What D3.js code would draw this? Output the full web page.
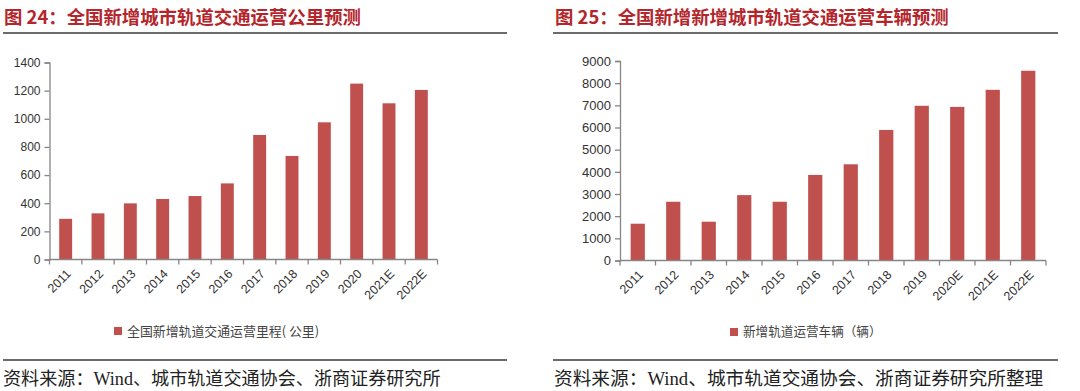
<!DOCTYPE html>
<html><head><meta charset="utf-8">
<script src="https://cdn.jsdelivr.net/npm/d3@7"></script>
<style>
html,body{margin:0;padding:0;background:#fff;}
svg{display:block;}
</style></head>
<body>
<script>
// Left chart data
const leftCategories = ["2011","2012","2013","2014","2015","2016","2017","2018","2019","2020","2021E","2022E"];
const leftValues = [289, 328, 399, 430, 451, 541, 885, 736, 975, 1250, 1110, 1205];
const leftTicks = [0,200,400,600,800,1000,1200,1400];
const leftTitle = "图 24：全国新增城市轨道交通运营公里预测";
const leftLegend = "全国新增轨道交通运营里程( 公里)";
const leftSource = "资料来源：Wind、城市轨道交通协会、浙商证券研究所";

// Right chart data
const rightCategories = ["2011","2012","2013","2014","2015","2016","2017","2018","2019","2020E","2021E","2022E"];
const rightValues = [1660, 2650, 1750, 2950, 2650, 3860, 4340, 5890, 6980, 6930, 7700, 8560];
const rightTicks = [0,1000,2000,3000,4000,5000,6000,7000,8000,9000];
const rightTitle = "图 25：全国新增新增城市轨道交通运营车辆预测";
const rightLegend = "新增轨道运营车辆（辆）";
const rightSource = "资料来源：Wind、城市轨道交通协会、浙商证券研究所整理";

const W = 1080, H = 391;
const barColor = "#c0504d";
const titleColor = "#b3262c";
const axisColor = "#868686";
const textColor = "#333";
const cjk = "'Noto Sans CJK SC', 'Liberation Sans', sans-serif";
const latin = "'Liberation Sans', Arial, 'Noto Sans CJK SC', sans-serif";
const serif = "'Liberation Serif', 'Noto Sans CJK SC', serif";

const svg = d3.select("body").append("svg").attr("width", W).attr("height", H);

function panel(cfg) {
  const g = svg.append("g");
  // title
  g.append("text").attr("x", cfg.titleX).attr("y", 24)
    .attr("fill", titleColor).attr("font-family", cjk).attr("font-weight", "bold")
    .attr("font-size", 18.4).attr("xml:space", "preserve").style("white-space", "pre").text(cfg.title);
  g.append("line").attr("x1", cfg.lineX1).attr("x2", cfg.lineX2).attr("y1", 33).attr("y2", 33)
    .attr("stroke", "#3a3a3a").attr("stroke-width", 1.6);
  g.append("line").attr("x1", cfg.lineX1).attr("x2", cfg.lineX2).attr("y1", 360).attr("y2", 360)
    .attr("stroke", "#3a3a3a").attr("stroke-width", 1.6);
  g.append("text").attr("x", cfg.titleX - 1).attr("y", 385)
    .attr("fill", "#222").attr("font-family", serif).attr("font-size", cfg.srcFont).text(cfg.source);

  const x = d3.scaleBand().domain(cfg.categories).range([cfg.x0, cfg.x1]).paddingInner(0.6).paddingOuter(0.3);
  const y = d3.scaleLinear().domain([0, cfg.max]).range([cfg.y0, cfg.y1]);

  // bars
  g.selectAll("rect.bar").data(cfg.values).enter().append("rect")
    .attr("class", "bar")
    .attr("x", (d, i) => x(cfg.categories[i]))
    .attr("y", d => y(d))
    .attr("width", x.bandwidth())
    .attr("height", d => y(0) - y(d))
    .attr("fill", barColor);

  // y axis
  const yAxis = d3.axisLeft(y).tickValues(cfg.ticks).tickSize(5).tickPadding(4).tickFormat(d3.format("d"));
  const ya = g.append("g").attr("transform", `translate(${cfg.x0},0)`).call(yAxis);
  ya.select(".domain").attr("stroke", axisColor).attr("stroke-width", 1.3);
  ya.selectAll(".tick line").attr("stroke", axisColor).attr("stroke-width", 1.3);
  ya.selectAll(".tick text").attr("fill", textColor).attr("font-family", latin).attr("font-size", cfg.yFont);

  // x axis: baseline + ticks at band boundaries
  const xa = g.append("g");
  xa.append("line").attr("x1", cfg.x0).attr("x2", cfg.x1).attr("y1", y(0)).attr("y2", y(0))
    .attr("stroke", axisColor).attr("stroke-width", 1.3);
  const bounds = d3.range(cfg.categories.length + 1).map(i => cfg.x0 + i * (cfg.x1 - cfg.x0) / cfg.categories.length);
  xa.selectAll("line.t").data(bounds).enter().append("line").attr("class", "t")
    .attr("x1", d => d).attr("x2", d => d).attr("y1", y(0)).attr("y2", y(0) + 5)
    .attr("stroke", axisColor).attr("stroke-width", 1.3);
  xa.selectAll("text").data(cfg.categories).enter().append("text")
    .attr("transform", d => `translate(${x(d) + x.bandwidth() / 2 + 3},${y(0) + 12}) rotate(-45)`)
    .attr("text-anchor", "end").attr("dy", "0.35em")
    .attr("fill", textColor).attr("font-family", latin).attr("font-size", 12.5).text(d => d);

  // legend
  g.append("rect").attr("x", cfg.legX).attr("y", cfg.legY - 4).attr("width", 8).attr("height", 8).attr("fill", barColor);
  g.append("text").attr("x", cfg.legX + 13).attr("y", cfg.legY).attr("dy", "0.35em")
    .attr("fill", "#444").attr("font-family", cjk).attr("font-size", cfg.legFont).text(cfg.legend);
}

panel({
  categories: leftCategories, values: leftValues, ticks: leftTicks, max: 1400,
  title: leftTitle, legend: leftLegend, source: leftSource,
  titleX: 4, lineX1: 3, lineX2: 507,
  x0: 49.5, x1: 437.5, y0: 259.5, y1: 62.5, yFont: 12,
  legX: 114, legY: 331, legFont: 12.9, srcFont: 18.1
});
panel({
  categories: rightCategories, values: rightValues, ticks: rightTicks, max: 9000,
  title: rightTitle, legend: rightLegend, source: rightSource,
  titleX: 555, lineX1: 553, lineX2: 1058,
  x0: 620, x1: 1046, y0: 260.5, y1: 61, yFont: 13,
  legX: 730, legY: 332, legFont: 12.6, srcFont: 18.7
});
</script>
</body></html>
